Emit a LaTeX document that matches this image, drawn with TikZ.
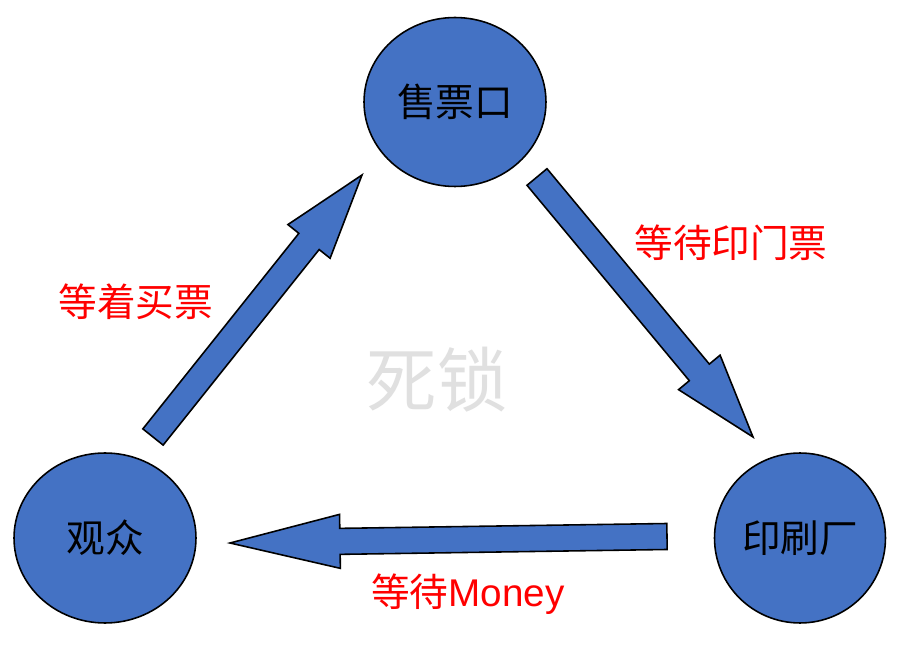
\documentclass[tikz,border=0pt]{standalone}
\usepackage{fontspec}
\newfontfamily\cjk{Noto Sans CJK SC}
\newfontfamily\arial{Liberation Sans}
\usetikzlibrary{calc,shapes.geometric}
\definecolor{officeblue}{RGB}{68,114,196}
\definecolor{lockgray}{RGB}{224,224,224}
\tikzset{
	station/.style={ellipse, draw=black, line width=0.9pt, fill=officeblue, inner sep=0pt, font=\cjk\fontsize{22}{26}\selectfont},
	waitlabel/.style={text=red, inner sep=0pt, font=\cjk\fontsize{22}{26}\selectfont},
	blockarrow/.style={draw=black, line width=0.9pt, fill=officeblue, line join=miter}
}
% block arrow from tail #1 to tip #2, head length #3
\def\blockarrow(#1)(#2)(#3){%
	\coordinate (#1base) at ($(#2)!#3!(#1)$);
	\draw[blockarrow] ($(#1)!0.26cm!90:(#2)$) -- ($(#1base)!0.26cm!90:(#2)$) -- ($(#1base)!0.54cm!90:(#2)$) -- (#2) -- ($(#1base)!0.54cm!-90:(#2)$) -- ($(#1base)!0.26cm!-90:(#2)$) -- ($(#1)!0.26cm!-90:(#2)$) -- cycle;}

\begin{document}
\begin{tikzpicture}[x=0.02cm, y=-0.02cm]
			%%%%% START %%%%%
			
			\path[fill=white, use as bounding box] (0, 0) rectangle (897, 655);
			
			\node[station, minimum width=3.64cm, minimum height=3.38cm] (booth) at (455, 102) {售票口};
			\node[station, minimum width=3.64cm, minimum height=3.4cm] (viewer) at (105, 538) {观众};
			\node[station, minimum width=3.42cm, minimum height=3.4cm] (printer) at (800, 538) {印刷厂};
			
			\coordinate (buyT) at (153, 437);
			\coordinate (buyH) at (362, 175);
			\coordinate (ticketT) at (537, 177);
			\coordinate (ticketH) at (753, 437);
			\coordinate (moneyT) at (667, 536.5);
			\coordinate (moneyH) at (230, 543);
			
			\blockarrow(buyT)(buyH)(1.7cm)
			\blockarrow(ticketT)(ticketH)(1.68cm)
			\blockarrow(moneyT)(moneyH)(2.2cm)
			
			\node[waitlabel] (buylbl) at (136, 302) {等着买票};
			\node[waitlabel] (ticketlbl) at (731, 243) {等待印门票};
			\node[waitlabel] (moneylbl) at (468, 594) {等待{\arial Money}};
			
			\node[text=lockgray, inner sep=0pt, font=\cjk\fontsize{40}{48}\selectfont] (lock) at (437, 380) {死锁};
			
			%%%%% END %%%%%
\end{tikzpicture}
\end{document}
